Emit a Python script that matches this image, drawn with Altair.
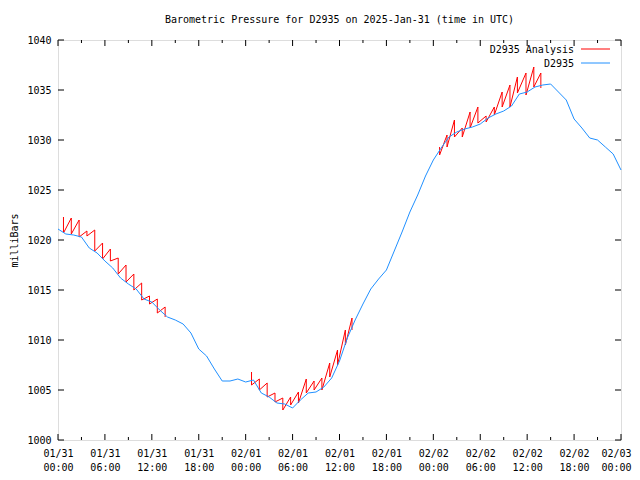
import json
import altair as alt
import pandas as pd

# ---------------- data ----------------
title_text = "Barometric Pressure for D2935 on 2025-Jan-31 (time in UTC)"
series_names = ["D2935 Analysis", "D2935"]
day_labels = ["01/31", "02/01", "02/02", "02/03"]

# hours since 2025-01-31 00:00 UTC
blue_hours = list(range(0, 73))
blue_values = [1021.1, 1020.6, 1020.5, 1020.3, 1019.2, 1018.7, 1017.9, 1017.2, 1016.2, 1015.6,
               1015.1, 1014.1, 1013.8, 1013.0, 1012.3, 1012.0, 1011.6, 1010.7, 1009.1, 1008.4,
               1007.1, 1005.9, 1005.9, 1006.1, 1005.8, 1006.0, 1004.7, 1004.3, 1003.7, 1003.6,
               1003.2, 1004.0, 1004.7, 1004.8, 1005.3, 1006.2, 1007.9, 1010.2, 1012.0, 1013.6,
               1015.1, 1016.1, 1017.0, 1018.9, 1020.8, 1022.8, 1024.5, 1026.4, 1028.0, 1029.2,
               1030.3, 1030.8, 1031.1, 1031.3, 1031.6, 1032.2, 1032.6, 1032.9, 1033.4, 1034.6,
               1034.8, 1035.3, 1035.5, 1035.6, 1034.8, 1034.0, 1032.1, 1031.2, 1030.2, 1030.0,
               1029.3, 1028.6, 1027.0]

# analysis segments: hour of each reset, value before reset (top) and after reset (bottom)
red1_hours = [0.7, 1.7, 2.7, 3.7, 4.7, 5.7, 6.7, 7.7, 8.7, 9.7, 10.7, 11.7, 12.7, 13.7]
red1_top = [1022.3, 1022.2, 1022.0, 1020.9, 1021.0, 1019.7, 1019.1, 1018.2, 1017.5, 1016.6,
            1015.7, 1014.4, 1014.1, 1013.3]
red1_bot = [1020.7, 1020.6, 1020.3, 1020.4, 1018.9, 1018.1, 1017.9, 1016.6, 1015.8, 1015.0,
            1014.0, 1013.6, 1012.7, 1012.3]

red2_hours = [24.75, 25.75, 26.75, 27.75, 28.75, 29.75, 30.75, 31.75, 32.75, 33.75, 34.75,
              35.75, 36.75, 37.6]
red2_top = [1006.8, 1006.1, 1005.7, 1004.7, 1004.2, 1004.3, 1004.8, 1006.1, 1005.9, 1006.2,
            1007.7, 1009.0, 1011.0, 1012.2]
red2_bot = [1005.5, 1005.0, 1004.3, 1003.8, 1003.0, 1003.5, 1003.7, 1004.7, 1005.0, 1005.0,
            1006.3, 1007.5, 1009.5, 1011.0]

red3_hours = [48.8, 49.75, 50.7, 51.7, 52.7, 53.7, 54.75, 55.8, 56.8, 57.8, 58.75, 59.85,
              60.85, 61.75]
red3_top = [1029.3, 1030.5, 1032.0, 1031.2, 1032.8, 1033.3, 1032.4, 1033.3, 1034.8, 1035.5,
            1036.3, 1036.7, 1037.3, 1036.7]
red3_bot = [1028.5, 1029.3, 1030.3, 1030.3, 1031.2, 1031.7, 1031.8, 1032.5, 1033.3, 1033.3,
            1034.7, 1034.5, 1035.3, 1035.2]

x_major = list(range(0, 73, 6))
x_minor = list(range(3, 72, 6))
y_ticks = list(range(1000, 1041, 5))

# ---------------- tables ----------------
blue_df = pd.DataFrame({"h": blue_hours, "v": blue_values})

rows = []
order = 0
for seg, (hs, tops, bots) in enumerate([(red1_hours, red1_top, red1_bot),
                                        (red2_hours, red2_top, red2_bot),
                                        (red3_hours, red3_top, red3_bot)]):
    for h, t, b in zip(hs, tops, bots):
        rows.append({"h": h, "v": t, "seg": seg, "o": order}); order += 1
        rows.append({"h": h, "v": b, "seg": seg, "o": order}); order += 1
red_df = pd.DataFrame(rows)

xmaj_df = pd.DataFrame({"h": x_major})
xmin_df = pd.DataFrame({"h": x_minor})
yt_df = pd.DataFrame({"v": y_ticks})

W, H = 563, 400
FONT = "DejaVu Sans Mono"
RED = "#ff0000"
BLUE = "#2090ff"

label_expr = ("[" + json.dumps(day_labels).replace('"', "'") +
              "[floor(datum.value/24)], (datum.value%24<10?'0':'') + (datum.value%24) + ':00']")

xscale = alt.Scale(domain=[0, 72], nice=False, zero=False)
yscale = alt.Scale(domain=[1000, 1040], nice=False, zero=False)

xaxis = alt.Axis(values=x_major, labelExpr=label_expr, ticks=False, domain=False, grid=False,
                 title=None, labelPadding=8, labelLineHeight=14, labelFont=FONT,
                 labelFontSize=10, labelColor="black", labelFlush=False, labelOverlap=False,
                 labelOffset={"condition": {"test": "datum.value == 72", "value": -5},
                              "value": 0})
yaxis = alt.Axis(values=y_ticks, format="d", ticks=False, domain=False, grid=False,
                 title="milliBars", labelPadding=7, labelFont=FONT, labelFontSize=10,
                 labelColor="black", titleFont=FONT, titleFontSize=10,
                 titleFontWeight="normal", titleColor="black", titlePadding=7,
                 labelFlush=False)

blue = alt.Chart(blue_df).mark_line(color=BLUE, strokeWidth=1, interpolate="linear").encode(
    x=alt.X("h:Q", scale=xscale, axis=xaxis),
    y=alt.Y("v:Q", scale=yscale, axis=yaxis),
)

red = alt.Chart(red_df).mark_line(color=RED, strokeWidth=1).encode(
    x=alt.X("h:Q", title=None),
    y=alt.Y("v:Q", title="milliBars"),
    detail="seg:N",
    order="o:Q",
)

def xticks(df, y0, y1):
    return alt.Chart(df).mark_rule(color="black", strokeWidth=1).encode(
        x=alt.X("h:Q", title=None), y=alt.value(y0), y2=alt.value(y1))

def yticks(x0, x1):
    return alt.Chart(yt_df).mark_rule(color="black", strokeWidth=1).encode(
        y=alt.Y("v:Q", title="milliBars"), x=alt.value(x0), x2=alt.value(x1))

ticks = [
    xticks(xmaj_df, H, H - 6), xticks(xmin_df, H, H - 3),
    xticks(xmaj_df, 0, 6), xticks(xmin_df, 0, 3),
    yticks(0, 6), yticks(W, W - 6),
]

leg_df = pd.DataFrame({"name": series_names, "c": [RED, BLUE], "row": [0, 1]})
leg_y = alt.Y("row:Q", scale=alt.Scale(domain=[0, 1], range=[9, 23]), axis=None)
leg_text = alt.Chart(leg_df).mark_text(align="right", baseline="middle", font=FONT,
                                       fontSize=10, color="black", dy=1).encode(
    x=alt.value(516), y=leg_y, text="name:N",
)
leg_lines = alt.Chart(leg_df).mark_rule(strokeWidth=1).encode(
    x=alt.value(523), x2=alt.value(552), y=leg_y,
    color=alt.Color("c:N", scale=None, legend=None),
)

main = alt.layer(red, blue, *ticks).properties(width=W, height=H)
legend_layer = alt.layer(leg_lines, leg_text).properties(width=W, height=H)

chart = alt.layer(main, legend_layer).resolve_scale(y="independent").properties(
    width=W, height=H,
    title=alt.TitleParams(title_text, font=FONT, fontSize=10, fontWeight="normal",
                          color="black", anchor="middle", offset=10),
    padding={"left": 50, "top": 32, "right": 11, "bottom": 32},
    autosize=alt.AutoSizeParams(type="none"),
).configure_view(stroke="black", strokeWidth=1).configure(background="white")

chart.save("out.html", embed_options={"renderer": "svg", "actions": False})
